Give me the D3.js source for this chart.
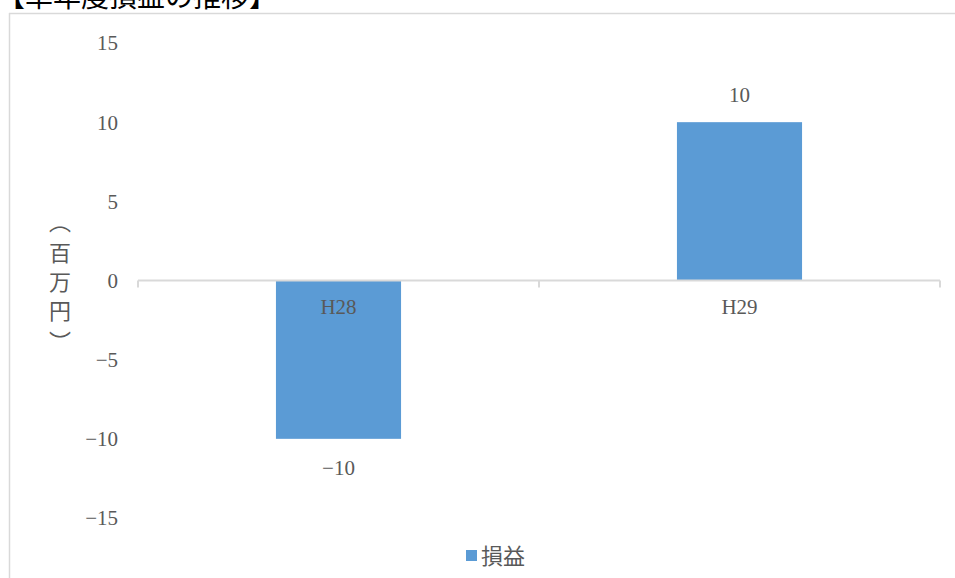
<!DOCTYPE html>
<html><head><meta charset="utf-8">
<script src="https://cdn.jsdelivr.net/npm/d3@7"></script>
<style>html,body{margin:0;padding:0;background:#fff;overflow:hidden}</style>
</head><body>
<svg id="c" width="955" height="578"></svg>
<script>
const categories = ["H28", "H29"];
const values = [-10, 10];
const yTicks = [-15, -10, -5, 0, 5, 10, 15];
const seriesName = "損益";
const title = "【単年度損益の推移】";
const yTitleChars = ["︵", "百", "万", "円", "︶"];

const svg = d3.select("#c");
const serif = "'Liberation Serif','DejaVu Serif',serif";
const cjk = "'Noto Sans CJK JP','Noto Sans CJK SC',sans-serif";
const txt = "#595959";
const grid = "#d9d9d9";
const barColor = "#5B9BD5";
const fmt = d => d < 0 ? "\u2212" + Math.abs(d) : String(d);

// frame
svg.append("line").attr("x1", 9.5).attr("x2", 9.5).attr("y1", 13).attr("y2", 578).attr("stroke", grid).attr("stroke-width", 1.5);
svg.append("line").attr("x1", 9).attr("x2", 955).attr("y1", 13.5).attr("y2", 13.5).attr("stroke", grid).attr("stroke-width", 1.5);

svg.append("text").attr("x", -3).attr("y", 7).attr("font-family", cjk).attr("font-size", 28).attr("fill", "#000").text(title);

const y = d3.scaleLinear().domain([-15, 15]).range([518, 43]);
const x = d3.scaleBand().domain(categories).range([138, 940]).padding(0);
const barRatio = 0.312;
const bw = x.bandwidth() * barRatio;

// y tick labels
svg.append("g").selectAll("text").data(yTicks).join("text")
  .attr("x", 118).attr("y", d => y(d)).attr("dy", "0.35em")
  .attr("text-anchor", "end").attr("font-family", serif).attr("font-size", 21).attr("fill", txt)
  .text(fmt);

// bars
svg.append("g").selectAll("rect").data(values).join("rect")
  .attr("x", (d, i) => x(categories[i]) + (x.bandwidth() - bw) / 2)
  .attr("width", bw)
  .attr("y", d => y(Math.max(0, d)))
  .attr("height", d => Math.abs(y(d) - y(0)))
  .attr("fill", barColor);

// x axis
const ax = svg.append("g");
ax.append("line").attr("x1", 138).attr("x2", 940).attr("y1", y(0)).attr("y2", y(0)).attr("stroke", grid).attr("stroke-width", 2);
const edges = categories.map(c => x(c)).concat([x(categories[categories.length - 1]) + x.bandwidth()]);
ax.selectAll("line.t").data(edges).join("line").attr("class", "t")
  .attr("x1", d => d).attr("x2", d => d).attr("y1", y(0)).attr("y2", y(0) + 7)
  .attr("stroke", grid).attr("stroke-width", 2);
ax.selectAll("text").data(categories).join("text")
  .attr("x", d => x(d) + x.bandwidth() / 2).attr("y", y(0) + 26).attr("dy", "0.35em")
  .attr("text-anchor", "middle").attr("font-family", serif).attr("font-size", 21).attr("fill", txt)
  .text(d => d);

// data labels
svg.append("g").selectAll("text").data(values).join("text")
  .attr("x", (d, i) => x(categories[i]) + x.bandwidth() / 2)
  .attr("y", d => d >= 0 ? y(d) - 28 : y(d) + 29).attr("dy", "0.35em")
  .attr("text-anchor", "middle").attr("font-family", serif).attr("font-size", 21).attr("fill", txt)
  .text(fmt);

// y title (vertical, one glyph per line; vertical-form brackets)
const yTitleY = [220, 251, 280, 309, 340];
svg.append("g").selectAll("text").data(yTitleChars).join("text")
  .attr("x", 60).attr("y", (d, i) => yTitleY[i])
  .attr("text-anchor", "middle").attr("dominant-baseline", "central")
  .attr("font-family", cjk).attr("font-size", 22).attr("fill", txt)
  .text(d => d);

// legend
const lg = svg.append("g");
lg.append("rect").attr("x", 466).attr("y", 550).attr("width", 11).attr("height", 11).attr("fill", barColor);
lg.append("text").attr("x", 481).attr("y", 556).attr("dy", "0.35em").attr("font-family", cjk).attr("font-size", 22).attr("fill", txt).text(seriesName);
</script>
</body></html>
